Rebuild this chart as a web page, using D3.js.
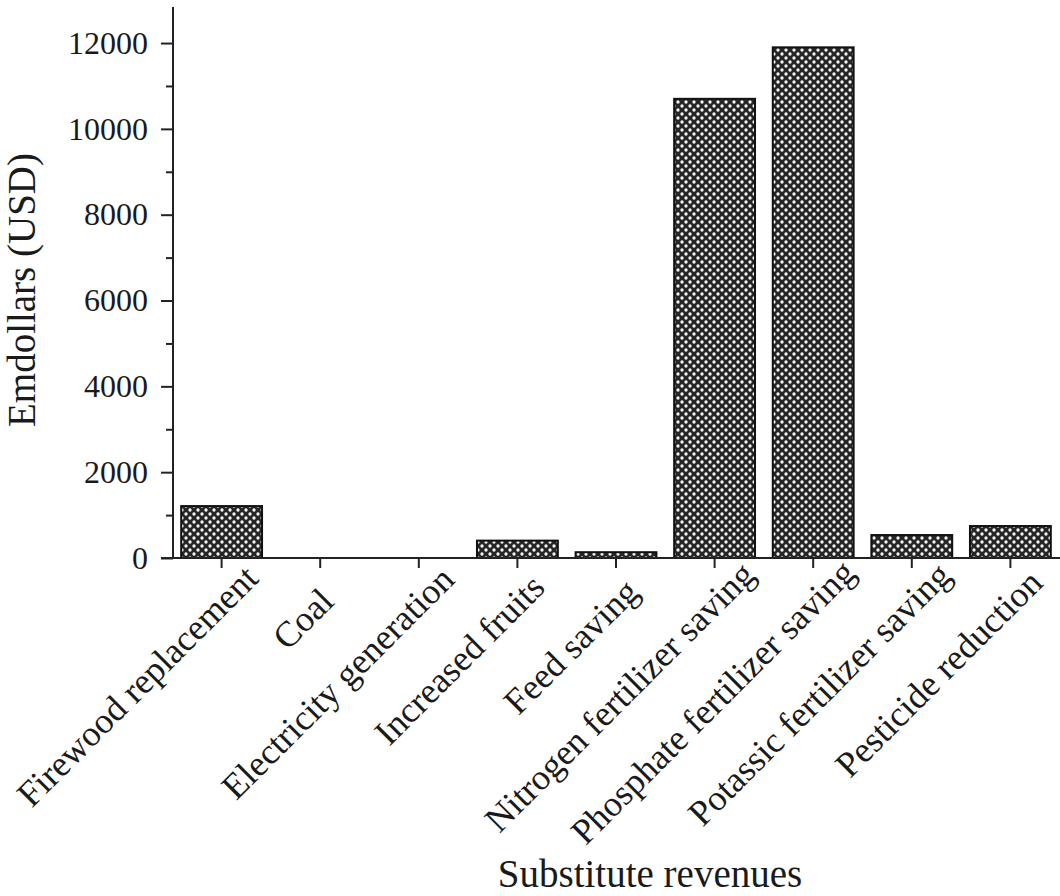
<!DOCTYPE html>
<html>
<head>
<meta charset="utf-8">
<script src="https://cdn.jsdelivr.net/npm/d3@7"></script>
<style>
  html, body { margin: 0; padding: 0; background: #fff; }
  svg { display: block; }
  text { font-family: "Liberation Serif", "Times New Roman", serif; fill: #1a1a1a; }
</style>
</head>
<body>
<svg id="chart" width="1060" height="896"></svg>
<script>
const categories = [
  "Firewood replacement", "Coal", "Electricity generation", "Increased fruits",
  "Feed saving", "Nitrogen fertilizer saving", "Phosphate fertilizer saving",
  "Potassic fertilizer saving", "Pesticide reduction"
];
const values = [1210, 0, 0, 405, 135, 10700, 11900, 535, 745];
const yTicks = [0, 2000, 4000, 6000, 8000, 10000, 12000];
const yMinorTicks = [1000, 3000, 5000, 7000, 9000, 11000];
const yMax = 12840;
const xTitle = "Substitute revenues";
const yTitle = "Emdollars (USD)";

const svg = d3.select("#chart");
const x0 = 173, x1 = 1059, yTop = 7, yBase = 558;

const x = d3.scaleBand().domain(categories).range([x0, x1])
  .paddingInner(0.18).paddingOuter(0.083);
const y = d3.scaleLinear().domain([0, yMax]).range([yBase, yTop]);

// pattern
const defs = svg.append("defs");
const pat = defs.append("pattern").attr("id", "checker")
  .attr("patternUnits", "userSpaceOnUse").attr("width", 8).attr("height", 8);
pat.append("rect").attr("width", 8).attr("height", 8).attr("fill", "#262626");
pat.append("circle").attr("cx", 2).attr("cy", 2).attr("r", 1.65).attr("fill", "#f6f6f6");
pat.append("circle").attr("cx", 6).attr("cy", 6).attr("r", 1.65).attr("fill", "#f6f6f6");

// bars
svg.append("g").selectAll("rect").data(categories).join("rect")
  .attr("x", d => x(d))
  .attr("y", (d, i) => y(values[i]))
  .attr("width", x.bandwidth())
  .attr("height", (d, i) => yBase - y(values[i]))
  .attr("fill", "url(#checker)")
  .attr("stroke", "#111")
  .attr("stroke-width", 2);

// y axis
const yAxis = d3.axisLeft(y).tickValues(yTicks).tickSize(12).tickPadding(13)
  .tickFormat(d3.format("d"));
const gy = svg.append("g").attr("transform", `translate(${x0},0)`).call(yAxis);
gy.select(".domain").remove();
gy.selectAll(".tick line").attr("stroke", "#222").attr("stroke-width", 2);
gy.selectAll(".tick text").attr("font-size", 32).attr("fill", "#1a1a1a")
  .attr("font-family", "Liberation Serif, Times New Roman, serif");
const gyMinor = svg.append("g").attr("transform", `translate(${x0},0)`)
  .call(d3.axisLeft(y).tickValues(yMinorTicks).tickSize(7).tickFormat(""));
gyMinor.select(".domain").remove();
gyMinor.selectAll(".tick line").attr("stroke", "#222").attr("stroke-width", 2);
svg.append("line").attr("x1", x0).attr("x2", x0).attr("y1", yTop).attr("y2", yBase)
  .attr("stroke", "#222").attr("stroke-width", 2);

// x axis
const gx = svg.append("g").attr("transform", `translate(0,${yBase})`)
  .call(d3.axisBottom(x).tickSize(10).tickFormat(""));
gx.select(".domain").remove();
gx.selectAll(".tick line").attr("stroke", "#222").attr("stroke-width", 2);
svg.append("line").attr("x1", x0 - 12).attr("x2", 1060).attr("y1", yBase).attr("y2", yBase)
  .attr("stroke", "#222").attr("stroke-width", 2);

// rotated category labels
const s2 = Math.SQRT2;
svg.append("g").selectAll("text").data(categories).join("text")
  .attr("font-size", 36)
  .attr("text-anchor", "end")
  .text(d => d)
  .each(function(d) {
    const L = this.getComputedTextLength();
    const along = -30 + 0.128 * L;
    const perp = 43;
    const cx = x(d) + x.bandwidth() / 2;
    const px = cx + (along + perp) / s2;
    const py = yBase + (perp - along) / s2;
    d3.select(this).attr("transform", `translate(${px},${py}) rotate(-45)`);
  });

// titles
svg.append("text").attr("x", 650).attr("y", 887).attr("text-anchor", "middle")
  .attr("font-size", 39).text(xTitle);
svg.append("text").attr("transform", "translate(35,290) rotate(-90)")
  .attr("text-anchor", "middle").attr("font-size", 39).text(yTitle);
</script>
</body>
</html>
